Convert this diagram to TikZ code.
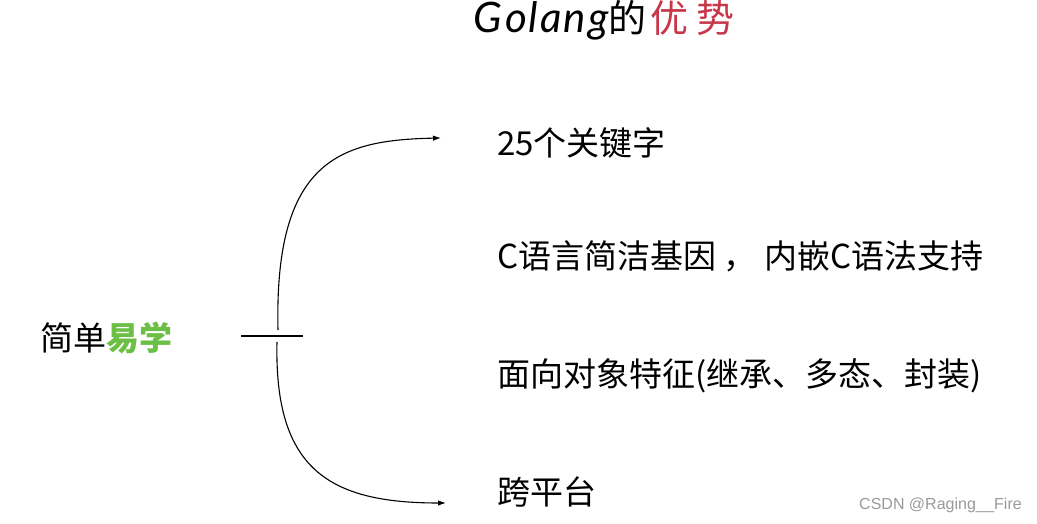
\documentclass[tikz,border=0pt]{standalone}
\usepackage{fontspec}
\setmainfont{Noto Sans CJK SC}
\newfontfamily\cjk{Noto Sans CJK SC}
\newfontfamily\hand{Lato}
\newfontfamily\wm{Liberation Sans}
\usetikzlibrary{arrows.meta}
\definecolor{titlered}{HTML}{C8364A}
\definecolor{easygreen}{HTML}{6CBF45}
\definecolor{wmgray}{HTML}{9A9A9A}
\tikzset{
  item/.style={anchor=west, inner sep=0pt, font=\cjk\fontsize{33}{35}\selectfont},
  conn/.style={line width=1.1pt, -{Latex[length=8pt,width=5.5pt]}},
  bar/.style={line width=1.1pt}
}
\begin{document}
\begin{tikzpicture}[x=1pt,y=-1pt]
\useasboundingbox[fill=white] (0,0) rectangle (1037,524);
\node[anchor=base, inner sep=0pt] (title) at (604,33)
  {{\hand\itshape\fontsize{42}{44}\selectfont G\kern3pt o\kern2pt l\kern2pt a\kern2pt n\kern2pt g}{\cjk\fontsize{38}{40}\selectfont 的\kern4pt\textcolor{titlered}{优\kern8pt 势}}};
\node[item] (left) at (40,338) {简单\textcolor{easygreen}{\bfseries 易学}};
\node[item] (t1) at (497,143) {25个关键字};
\node[item] (t2) at (497,256) {C语言简洁基因 ，  内嵌C语法支持};
\node[item] (t3) at (497,376) {面向对象特征(继承、多态、封装)};
\node[item] (t4) at (497,492) {跨平台};
\node[anchor=east, inner sep=0pt, text=wmgray, font=\wm\fontsize{16}{18}\selectfont] (wm) at (1022,505) {CSDN @Raging\_\kern0.5pt\_Fire};
\coordinate (hl) at (241,336);
\coordinate (hr) at (303,336);
\coordinate (up) at (278,330);
\coordinate (dn) at (277,342);
\coordinate (e1) at (441,138);
\coordinate (e2) at (446,503);
\draw[bar] (hl) -- (hr);
\draw[conn] (up) .. controls (274,160) and (340,140) .. (e1);
\draw[conn] (dn) .. controls (274,470) and (330,503) .. (e2);
\end{tikzpicture}
\end{document}
